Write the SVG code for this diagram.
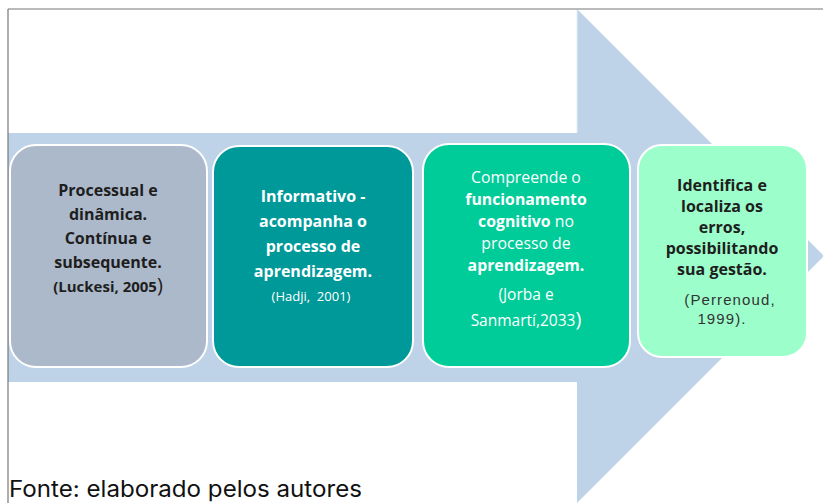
<svg xmlns="http://www.w3.org/2000/svg" width="823" height="503" viewBox="0 0 823 503">
<style>
.t{font-family:"Open Sans","Liberation Sans",sans-serif;text-anchor:middle}
.b{font-weight:700}
.dk{fill:#1e1e1e}
.wh{fill:#ffffff}
.box{stroke:#ffffff;stroke-width:2}
.pre{white-space:pre}
</style>
<rect x="0" y="0" width="823" height="503" fill="#ffffff"/>
<g id="arrow">
<polygon points="8,133 577,133 577,9 824,256 577,503 577,382 8,382" fill="#BED3E8"/>
<line x1="577" y1="9" x2="577" y2="133" stroke="#e6eef7" stroke-width="1"/>
</g>
<g id="frame" stroke="#777777" stroke-width="1.2">
<line x1="8" y1="9" x2="823" y2="9"/>
<line x1="8" y1="9" x2="8" y2="503"/>
</g>
<g id="node1">
<rect class="box" x="10" y="145" width="197" height="222" rx="26" fill="#ACB9CA"/>
<text class="t b dk" font-size="16"><tspan x="108" y="196">Processual e</tspan><tspan x="108" y="220">dinâmica.</tspan><tspan x="108" y="244">Contínua e</tspan><tspan x="108" y="268">subsequente.</tspan><tspan x="108" y="292" font-size="15">(Luckesi, 2005<tspan font-size="20" font-weight="400">)</tspan></tspan></text>
</g>
<g id="node2">
<rect class="box" x="213" y="146" width="200" height="221" rx="26" fill="#009999"/>
<text class="t b wh" font-size="16"><tspan x="313" y="202">Informativo -</tspan><tspan x="313" y="227">acompanha o</tspan><tspan x="313" y="252">processo de</tspan><tspan x="313" y="277">aprendizagem.</tspan></text>
<text class="t wh pre" font-size="13" x="311" y="301">(Hadji,  2001)</text>
</g>
<g id="node3">
<rect class="box" x="423" y="144" width="207" height="223" rx="26" fill="#00CC99"/>
<text class="t wh" font-size="15.8"><tspan x="526" y="183">Compreende o</tspan><tspan x="526" y="205" font-weight="700">funcionamento</tspan><tspan x="526" y="227"><tspan font-weight="700">cognitivo</tspan> no</tspan><tspan x="526" y="249">processo de</tspan><tspan x="526" y="271" font-weight="700">aprendizagem.</tspan></text>
<text class="t wh" font-size="15.5"><tspan x="526" y="300">(Jorba e</tspan><tspan x="526" y="326">Sanmartí,2033<tspan font-size="20">)</tspan></tspan></text>
</g>
<g id="node4">
<rect class="box" x="638" y="145" width="169" height="212" rx="24" fill="#9CFECB"/>
<text class="t b dk" font-size="16"><tspan x="722" y="191">Identifica e</tspan><tspan x="722" y="212">localiza os</tspan><tspan x="722" y="233">erros,</tspan><tspan x="722" y="254">possibilitando</tspan><tspan x="722" y="275">sua gestão.</tspan></text>
<text font-family="'Liberation Sans',Arial,sans-serif" font-size="15" fill="#333333" text-anchor="middle" letter-spacing="1.1"><tspan x="730" y="305">(Perrenoud,</tspan><tspan x="722" y="324">1999).</tspan></text>
</g>
<text id="caption" x="9" y="497" font-family="Inter,'Liberation Sans',sans-serif" font-size="22.5" fill="#111111" textLength="353" lengthAdjust="spacingAndGlyphs">Fonte: elaborado pelos autores</text>
</svg>
